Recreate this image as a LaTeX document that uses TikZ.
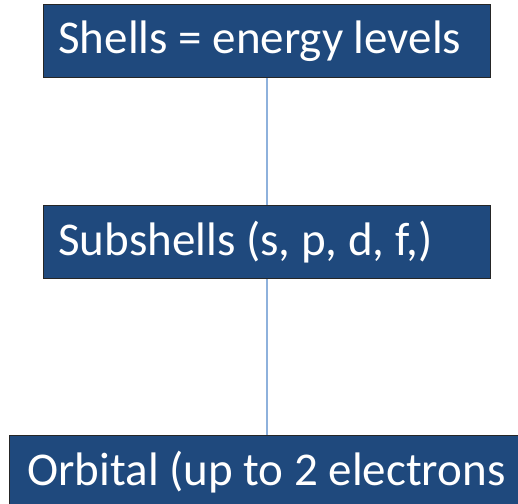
\documentclass[tikz,border=0pt]{standalone}
\usepackage{fontspec}
\setmainfont{Carlito}
\definecolor{boxblue}{HTML}{1F497D}
\definecolor{linkblue}{HTML}{8EB1DC}

\begin{document}
\begin{tikzpicture}[x=1pt,y=1pt,
    levelbox/.style={draw=black!85, line width=0.8pt, fill=boxblue, text=white,
      font=\fontsize{47}{54}\selectfont, align=flush left, inner ysep=0pt,
      minimum height=73pt, anchor=north west}]
      \useasboundingbox (0,0) rectangle (518,-503);
      \clip (0,0) rectangle (518,-503);
      \node[levelbox, text width=417pt, inner xsep=15pt] (shells) at (43,-4) {Shells = energy levels};
      \node[levelbox, text width=417pt, inner xsep=15pt] (subshells) at (43,-205) {Subshells (s, p, d, f,)};
      \node[levelbox, text width=560pt, inner xsep=18pt] (orbital) at (9,-435) {Orbital (up to 2 electrons};
      \draw[linkblue, line width=1.2pt] (shells.south) -- (subshells.north);
      \draw[linkblue, line width=1.2pt] (subshells.south) -- (subshells.south |- orbital.north);
    \end{tikzpicture}
\end{document}
